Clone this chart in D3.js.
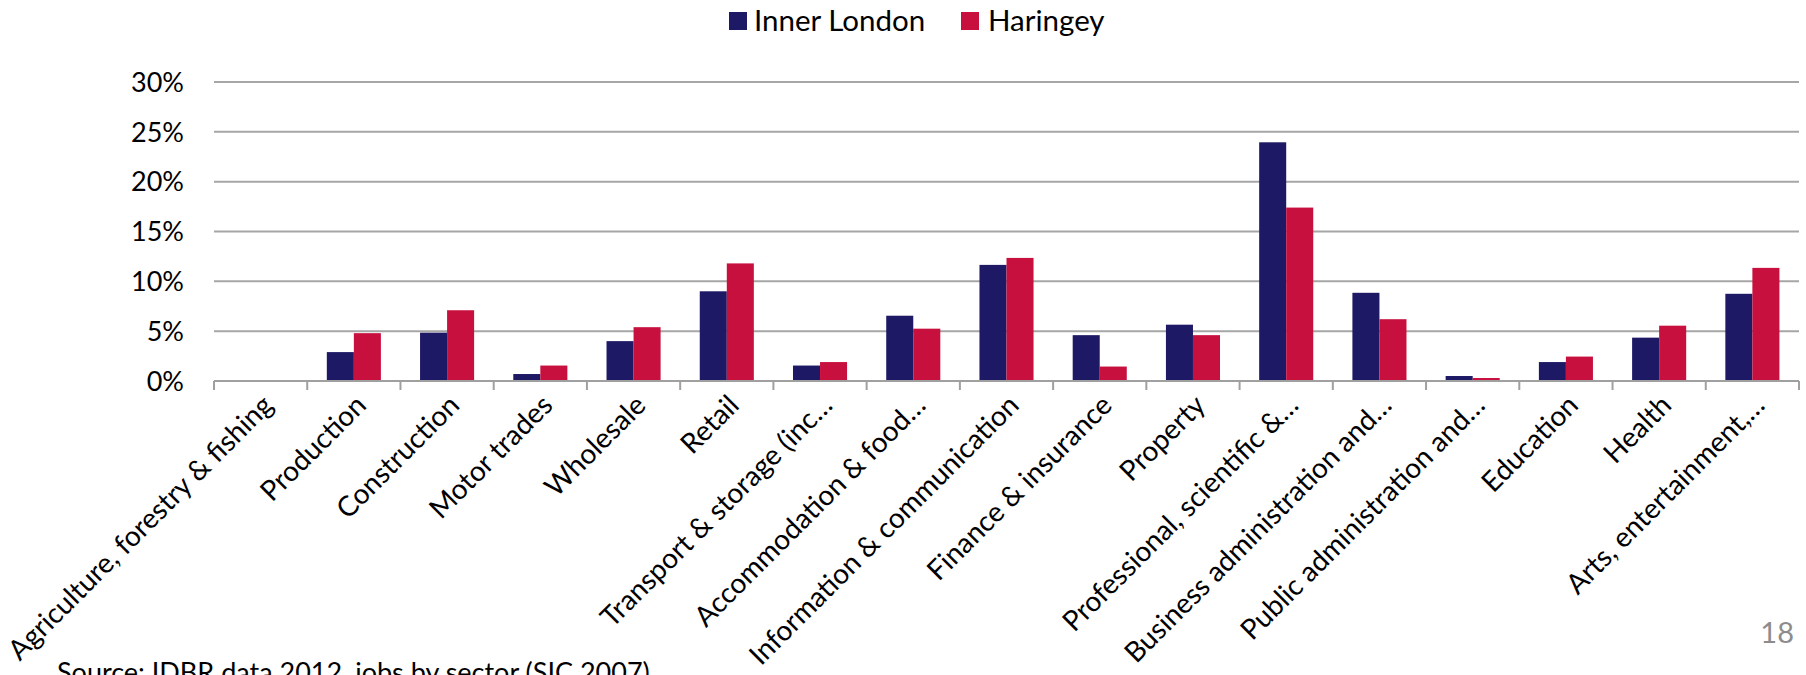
<!DOCTYPE html>
<html>
<head>
<meta charset="utf-8">
<script src="https://cdn.jsdelivr.net/npm/d3@7"></script>
<style>
  html, body { margin: 0; padding: 0; background: #ffffff; }
  svg { display: block; }
  text { font-family: Lato, "Open Sans", sans-serif; fill: #000; }
</style>
</head>
<body>
<svg id="chart" width="1806" height="675"></svg>
<script>
// Share of jobs by sector, Inner London vs Haringey (%)
const categories = [
  "Agriculture, forestry & fishing",
  "Production",
  "Construction",
  "Motor trades",
  "Wholesale",
  "Retail",
  "Transport & storage (inc…",
  "Accommodation & food…",
  "Information & communication",
  "Finance & insurance",
  "Property",
  "Professional, scientific &…",
  "Business administration and…",
  "Public administration and…",
  "Education",
  "Health",
  "Arts, entertainment,…"
];
const seriesNames = ["Inner London", "Haringey"];
const innerLondon = [0.05, 2.9, 4.85, 0.7, 4.0, 9.0, 1.55, 6.55, 11.65, 4.6, 5.65, 23.95, 8.85, 0.5, 1.9, 4.35, 8.75];
const haringey    = [0.05, 4.8, 7.1, 1.55, 5.4, 11.8, 1.9, 5.25, 12.35, 1.45, 4.6, 17.4, 6.2, 0.3, 2.45, 5.55, 11.35];
const yTicks = [0, 5, 10, 15, 20, 25, 30];
const colors = ["#1e1965", "#c8103f"];

const svg = d3.select("#chart");
const plot = { left: 214, right: 1799, top: 82, bottom: 381 };

const x = d3.scaleBand()
  .domain(categories)
  .range([plot.left, plot.right])
  .paddingInner(0.42)
  .paddingOuter(0.21);

const xs = d3.scaleBand()
  .domain(seriesNames)
  .range([0, x.bandwidth()]);

const y = d3.scaleLinear()
  .domain([0, 30])
  .range([plot.bottom, plot.top]);

// horizontal gridlines
svg.append("g")
  .selectAll("line")
  .data(yTicks.filter(d => d > 0))
  .join("line")
  .attr("x1", plot.left)
  .attr("x2", plot.right)
  .attr("y1", d => y(d))
  .attr("y2", d => y(d))
  .attr("stroke", "#a6a6a6")
  .attr("stroke-width", 2);

// y tick labels
svg.append("g")
  .selectAll("text")
  .data(yTicks)
  .join("text")
  .attr("x", 184)
  .attr("y", d => y(d))
  .attr("dy", "0.36em")
  .attr("text-anchor", "end")
  .style("font-size", "27px")
  .text(d => d + "%");

// bars
const rows = categories.map((c, i) => ({ c, vals: [innerLondon[i], haringey[i]] }));
const groups = svg.append("g")
  .selectAll("g")
  .data(rows)
  .join("g")
  .attr("transform", d => `translate(${x(d.c)},0)`);

groups.selectAll("rect")
  .data(d => d.vals.map((v, k) => ({ key: seriesNames[k], v, k })))
  .join("rect")
  .attr("x", d => xs(d.key))
  .attr("width", xs.bandwidth())
  .attr("y", d => y(d.v))
  .attr("height", d => y(0) - y(d.v))
  .attr("fill", d => colors[d.k]);

// category axis along the bottom with ticks on category boundaries
const step = x.step();
const boundaries = d3.range(categories.length + 1).map(i => plot.left + i * step);
svg.append("line")
  .attr("x1", plot.left).attr("x2", plot.right)
  .attr("y1", y(0)).attr("y2", y(0))
  .attr("stroke", "#a0a0a0")
  .attr("stroke-width", 2);
svg.append("g")
  .selectAll("line")
  .data(boundaries)
  .join("line")
  .attr("x1", d => d).attr("x2", d => d)
  .attr("y1", y(0)).attr("y2", y(0) + 9)
  .attr("stroke", "#a0a0a0")
  .attr("stroke-width", 2);

// rotated category labels
svg.append("g")
  .selectAll("text")
  .data(categories)
  .join("text")
  .attr("transform", d => `translate(${x(d) + x.bandwidth() / 2 + 14},${y(0) + 26}) rotate(-45)`)
  .attr("text-anchor", "end")
  .style("font-size", "28px")
  .text(d => d);

// legend
const legendItems = [
  { name: seriesNames[0], color: colors[0], sx: 729, tx: 754 },
  { name: seriesNames[1], color: colors[1], sx: 961, tx: 988 }
];
const legend = svg.append("g");
legend.selectAll("rect")
  .data(legendItems)
  .join("rect")
  .attr("x", d => d.sx).attr("y", 12)
  .attr("width", 18).attr("height", 18)
  .attr("fill", d => d.color);
legend.selectAll("text")
  .data(legendItems)
  .join("text")
  .attr("x", d => d.tx).attr("y", 31)
  .style("font-size", "29.5px")
  .text(d => d.name);

// footer
svg.append("text")
  .attr("x", 57).attr("y", 682)
  .style("font-size", "27px")
  .text("Source: IDBR data 2012, jobs by sector (SIC 2007)");
svg.append("text")
  .attr("x", 1794).attr("y", 643)
  .attr("text-anchor", "end")
  .style("font-size", "29px")
  .style("fill", "#8c8c8c")
  .text("18");
</script>
</body>
</html>
